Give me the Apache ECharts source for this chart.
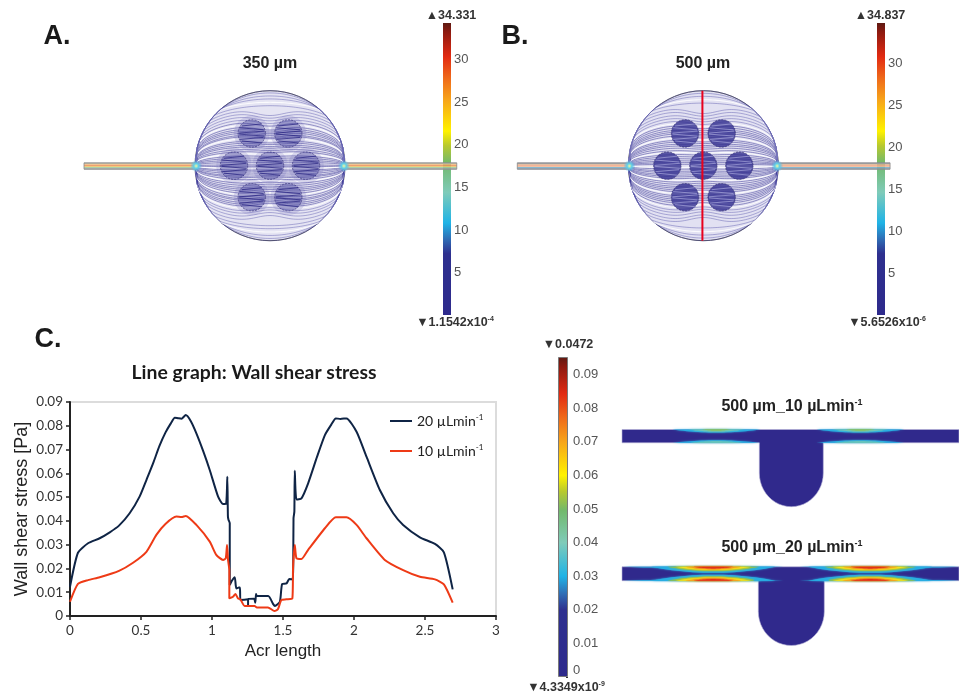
<!DOCTYPE html>
<html><head><meta charset="utf-8">
<style>html,body{margin:0;padding:0;background:#fff}#c{width:959px;height:696px}</style>
<script src="https://cdn.jsdelivr.net/npm/echarts@6/dist/echarts.min.js"></script>
</head><body><div id="c"></div>
<script>
// ---- line graph values (Arc length, Wall shear stress) ----
const arc20 = [0,.056,.127,.209,.28,.345,.42,.49,.54,.585,.63,.672,.71,.738,.76,.785,.815,.85,.89,.94,.984,1.043,1.078,1.10,1.108,1.112,1.116,1.125,1.125,1.14,1.16,1.167,1.172,1.19,1.197,1.2,1.254,1.254,1.258,1.296,1.305,1.31,1.316,1.396,1.431,1.443,1.478,1.494,1.525,1.544,1.567,1.572,1.574,1.58,1.583,1.595,1.63,1.677,1.74,1.795,1.84,1.872,1.905,1.947,2.018,2.088,2.182,2.276,2.346,2.464,2.57,2.633,2.695];
const wss20 = [.0123,.0266,.0306,.0327,.0352,.038,.0432,.0502,.0575,.0642,.0715,.0771,.081,.0834,.0832,.083,.0845,.082,.0768,.069,.0614,.0502,.0471,.0474,.0586,.042,.0405,.039,.013,.0148,.0163,.013,.0116,.012,.012,.0067,.007,.0046,.0072,.0073,.0056,.0092,.0084,.0084,.005,.0042,.006,.0135,.0137,.0156,.0154,.0207,.0411,.0439,.0611,.049,.0495,.0558,.067,.0761,.0805,.0831,.0829,.0831,.0775,.067,.053,.0432,.0383,.0331,.0303,.0268,.0112];
const arc10 = [0,.056,.127,.209,.345,.444,.538,.608,.672,.749,.785,.815,.89,.984,1.03,1.078,1.097,1.106,1.113,1.122,1.122,1.148,1.165,1.183,1.2,1.23,1.30,1.316,1.394,1.44,1.464,1.488,1.523,1.566,1.571,1.583,1.595,1.63,1.677,1.795,1.872,1.947,2.018,2.088,2.217,2.346,2.464,2.57,2.633,2.695];
const wss10 = [.006,.0135,.0151,.0163,.019,.0224,.027,.0341,.0387,.0418,.0416,.0421,.0383,.0313,.0257,.0236,.0243,.0299,.0236,.0193,.0074,.0081,.0093,.0074,.007,.0042,.0042,.0036,.0036,.0021,.0028,.0067,.007,.0074,.0207,.0299,.0243,.024,.0278,.0369,.0415,.0415,.0383,.0327,.0236,.0193,.0165,.0154,.0133,.0056];
const seriesNames = ['20 µLmin-1','10 µLmin-1'];

// ---- colour bars ----
const barTopA = 34.331, barTopB = 34.837, barTopC = 0.0952;
const velocityTick = 5, shearTick = 0.01;

// ---- simulation panels: streamline mid-heights and post centres, in dish radii ----
const streamA = [1,.97,.93,.885,.84,.80,.755,.71,.67,.635,.60,.57,.545,.52,.49,.47,.44,.41,.39,.36,.335,.31,.28,.25,.225,.2,.17,.15,.12,.09,.065,.04,.015,
                 -.01,-.05,-.08,-.11,-.14,-.17,-.2,-.23,-.265,-.29,-.32,-.345,-.38,-.41,-.43,-.46,-.485,-.51,-.54,-.57,-.6,-.64,-.68,-.72,-.76,-.80,-.845,-.89,-.93,-.97,-1];
const streamB = [1,.965,.925,.88,.83,.785,.745,.70,.66,.625,.59,.56,.525,.50,.475,.45,.425,.395,.37,.345,.32,.295,.265,.235,.21,.185,.16,.135,.105,.08,.05,.025,
                 -.02,-.045,-.07,-.1,-.13,-.16,-.19,-.215,-.25,-.28,-.305,-.335,-.36,-.39,-.42,-.45,-.475,-.5,-.53,-.56,-.59,-.625,-.665,-.705,-.75,-.79,-.835,-.88,-.925,-.965,-1];
const postCentres = [[-.244,-.43],[.244,-.43],[-.48,0],[0,0],[.48,0],[-.244,.42],[.244,.42]];
const postStreaks = [-.62,-.34,-.1,.12,.36,.62];
const bandsA = ['#a8a8a8','#f3d684','#e8705c','#f0ac5c','#e8d877','#93c4a6','#a0a0a0'];
const bandsB = ['#8f98a6','#d2b592','#f0ab8c','#f3a687','#eec8a2','#62a8cf','#8f98a6'];
const cutLine = [[-.012,-1],[-.012,1]];
// hot spots of wall shear: [centre, half length, depth, wall (0 top, 1 bottom), heat index]
const heat = ['#27aee3','#6fc6b8','#8fc04c','#f5e11a','#f59a1e','#e2311a'];
const spots10 = [[-75,44,3,0,0],[-75,28,2,0,1],[-75,14,1,0,2],[69,44,3,0,0],[69,28,2,0,1],[69,14,1,0,2],
                 [-75,44,2.5,1,0],[-75,26,1.5,1,1],[69,44,2.5,1,0],[69,26,1.5,1,1]];
const spots20 = [[-88,80,1.4,0,0],[88,80,1.4,0,0],[-88,80,1.4,1,0],[88,80,1.4,1,0],
  [-78,62,6,0,0],[-78,46,4.2,0,2],[-78,38,3.3,0,3],[-78,28,2.4,0,4],[-78,20,1.6,0,5],
  [79,62,6,0,0],[79,46,4.2,0,2],[79,38,3.3,0,3],[79,28,2.4,0,4],[79,20,1.6,0,5],
  [-78,62,6,1,0],[-78,46,4.2,1,2],[-78,38,3.3,1,3],[-78,28,2.4,1,4],[-78,20,1.6,1,5],
  [79,62,6,1,0],[79,46,4.2,1,2],[79,38,3.3,1,3],[79,28,2.4,1,4],[79,20,1.6,1,5],
  [-34,4,2,1,0],[34,4,2,1,0]];

const SANS = '"Liberation Sans", Arial, sans-serif';
const rainbow = {type:'linear',x:0,y:0,x2:0,y2:1,colorStops:[
  {offset:0,color:'#5e1a12'},{offset:.03,color:'#8c1a10'},{offset:.115,color:'#e22a12'},{offset:.19,color:'#ef6a1a'},
  {offset:.265,color:'#f7a51a'},{offset:.37,color:'#fff200'},{offset:.42,color:'#b8c92e'},{offset:.48,color:'#72b96c'},
  {offset:.58,color:'#7fcbb9'},{offset:.685,color:'#1fb3e6'},{offset:.74,color:'#2f6db5'},{offset:.79,color:'#2e308f'},{offset:1,color:'#2e2a8c'}]};

function zip(a,b){return a.map((v,i)=>[v,b[i]]);}

const grids = [
  {left:70,top:402,width:426,height:214,show:true,borderColor:'#dcdcdc',borderWidth:2,backgroundColor:'#fff'},
  {left:443,top:23,width:8,height:292},
  {left:877,top:23,width:8,height:292},
  {left:558,top:357,width:10,height:320},
  {left:84,top:90.7,width:373,height:150},
  {left:517,top:90.7,width:373,height:150},
  {left:622,top:429,width:337,height:78},
  {left:622,top:566.5,width:337,height:80}
];
function hiddenX(i,min,max){return {gridIndex:i,type:'value',min,max,show:false};}
function hiddenY(i,min,max){return {gridIndex:i,type:'value',min,max,inverse:true,show:false};}
function barX(i){return {gridIndex:i,type:'category',data:['bar'],show:false};}
function barY(i,max,step,withZero){return {gridIndex:i,type:'value',position:'right',min:0,max,interval:step,
  axisLine:{show:false},splitLine:{show:false},
  axisTick:{show:true,inside:true,length:2,lineStyle:{color:'#333',width:1}},
  axisLabel:{margin:withZero?5:3,color:'#555',fontFamily:SANS,fontSize:13,showMaxLabel:false,showMinLabel:!!withZero,verticalAlignMinLabel:'bottom'}};}

const xAxes = [
  {gridIndex:0,type:'value',min:0,max:3,interval:.5,name:'Acr length',nameLocation:'middle',nameGap:27,
   nameTextStyle:{fontFamily:SANS,fontSize:17,color:'#222'},
   axisLine:{lineStyle:{color:'#222',width:2}},axisTick:{length:4,lineStyle:{color:'#222',width:1.5}},
   axisLabel:{fontFamily:'Lato',fontSize:13.5,color:'#333',margin:8},splitLine:{show:false}},
  barX(1),barX(2),barX(3),
  hiddenX(4,-2.48,2.493),hiddenX(5,-2.484,2.489),hiddenX(6,-169.3,167.7),hiddenX(7,-169.3,167.7)
];
const yAxes = [
  {gridIndex:0,type:'value',min:0,max:.09,interval:.01,name:'Wall shear stress [Pa]',nameLocation:'middle',nameGap:39,
   nameTextStyle:{fontFamily:SANS,fontSize:18,color:'#222'},
   axisLine:{show:true,lineStyle:{color:'#222',width:2}},axisTick:{show:true,length:4,lineStyle:{color:'#222',width:1.5}},
   axisLabel:{fontFamily:'Lato',fontSize:13.5,color:'#333',margin:7},splitLine:{show:false}},
  barY(1,barTopA,velocityTick),barY(2,barTopB,velocityTick),barY(3,barTopC,shearTick,true),
  hiddenY(4,-1,1),hiddenY(5,-1,1),hiddenY(6,0,78),hiddenY(7,0,80)
];

function lineSeries(name,data,color){return {type:'line',name,xAxisIndex:0,yAxisIndex:0,data,showSymbol:false,symbol:'none',smooth:.2,
  lineStyle:{color,width:2},itemStyle:{color},z:5,silent:true};}
function barSeries(i,top,border){return {type:'bar',xAxisIndex:i,yAxisIndex:i,data:[top],barWidth:'100%',silent:true,
  itemStyle:{color:rainbow,borderColor:border||'transparent',borderWidth:border?1:0}};}

function streamRender(params,api){
  const m=api.value(0), pts=[], a=Math.abs(m), s=m<0?-1:1;
  const k=a<.85?.8-.45*a:.42+(a-.85)/.15*.58;
  for(let j=0;j<=64;j++){
    const x=-1+2*j/64, e=Math.sqrt(Math.max(0,1-x*x));
    let y=a*Math.pow(e,k);
    if(a<.8) y*=1-.12*Math.exp(-Math.pow(x/.28,2));
    pts.push(api.coord([x,s*Math.min(y,e)]));
  }
  const n=params.dataIndex;
  let stroke='rgba(50,46,145,.7)', w=.7;
  if(a>.6) stroke='rgba(78,74,165,.6)';
  if(n%7===3){stroke='rgba(255,255,255,.8)';w=1.1;}
  return {type:'polyline',shape:{points:pts},style:{fill:null,stroke,lineWidth:w},silent:true};
}
function dishRender(fill,edge){return function(params,api){
  const c=api.coord([0,0]), r=api.size([1,1])[1];
  return {type:'circle',shape:{cx:c[0],cy:c[1],r},style:{fill:fill,stroke:edge,lineWidth:1},silent:true};
};}
function postRender(fill,edge,streak,halo){return function(params,api){
  const c=api.coord([api.value(0),api.value(1)]), u=api.size([1,1])[1], r=.183*u;
  const kids=[];
  if(halo) kids.push({type:'circle',shape:{cx:c[0],cy:c[1],r:r*1.3},style:{fill:halo}});
  kids.push({type:'circle',shape:{cx:c[0],cy:c[1],r},style:{fill,stroke:edge,lineWidth:.8,lineDash:[2,1.2]}});
  postStreaks.forEach((s,n)=>{const w=r*Math.sqrt(1-s*s)*.92,dy=s*r;
    kids.push({type:'line',shape:{x1:c[0]-w,y1:c[1]+dy-(n%2?1:-1),x2:c[0]+w,y2:c[1]+dy+(n%2?1:-1)},style:{stroke:streak,lineWidth:1}});});
  return {type:'group',children:kids,silent:true};
};}
function channelRender(bands){return function(params,api){
  const kids=[], h=6.4/bands.length;
  const y0=api.coord([0,0])[1]-2.9;
  [[-2.48,-.99],[.99,2.49]].forEach(p=>{
    const a=api.coord([p[0],0])[0], b=api.coord([p[1],0])[0];
    bands.forEach((col,i)=>kids.push({type:'rect',shape:{x:a,y:y0+i*h,width:b-a,height:h+.2},style:{fill:col}}));
    kids.push({type:'rect',shape:{x:a,y:y0,width:b-a,height:6.4},style:{fill:null,stroke:'#8a8a8a',lineWidth:.8}});
  });
  [-1,1].forEach(s=>{const c=api.coord([s*.985,0]);
    kids.push({type:'circle',shape:{cx:c[0],cy:c[1]+.3,r:6},style:{fill:{type:'radial',x:.5,y:.5,r:.5,colorStops:[{offset:0,color:'#f4f7a0'},{offset:.4,color:'#5fd0e8'},{offset:1,color:'rgba(90,180,230,0)'}]}}});});
  return {type:'group',children:kids,silent:true};
};}
function bodyRender(G){return function(params,api){
  const pts=[[-169.3,G.t],[167.7,G.t],[167.7,G.b],[G.hw,G.b],[G.hw,G.s]];
  for(let j=1;j<=24;j++){const a=Math.PI*j/24;pts.push([G.hw*Math.cos(a),G.s+G.d*Math.sin(a)]);}
  pts.push([-G.hw,G.b],[-169.3,G.b]);
  return {type:'polygon',shape:{points:pts.map(p=>api.coord(p))},style:{fill:'#30298c',stroke:'#b7b3d8',lineWidth:.6},silent:true};
};}
function spotRender(G){return function(params,api){
  const cx=api.value(0),hw=api.value(1),d=api.value(2),wall=api.value(3),col=heat[api.value(4)];
  const y0=wall?G.b:G.t, sgn=wall?-1:1, pts=[];
  for(let j=0;j<=24;j++){const t=-1+2*j/24;pts.push([cx+hw*t,y0+sgn*d*(1-t*t)]);}
  return {type:'polygon',shape:{points:pts.map(p=>api.coord(p))},style:{fill:col,shadowBlur:2,shadowColor:col},silent:true};
};}
function custom(i,data,renderItem,z){return {type:'custom',coordinateSystem:'cartesian2d',xAxisIndex:i,yAxisIndex:i,data,renderItem,z:z||2,silent:true,clip:false,animation:false};}

const G10={t:.5,b:13.8,hw:32,s:44,d:33.7}, G20={t:.3,b:14.2,hw:33,s:45,d:34};

const series=[
  lineSeries(seriesNames[0],zip(arc20,wss20),'#0f2445'),
  lineSeries(seriesNames[1],zip(arc10,wss10),'#ee3a16'),
  barSeries(1,barTopA),barSeries(2,barTopB),barSeries(3,barTopC,'#7a7a7a'),
  custom(4,[[0,0]],dishRender('rgba(125,120,195,.2)','#555'),2),
  custom(4,streamA.map(v=>[v,0]),streamRender,3),
  custom(4,postCentres,postRender('rgba(62,58,150,.36)','rgba(50,46,120,.8)','rgba(40,36,130,.75)','rgba(110,105,185,.2)'),4),
  custom(4,[[0,0]],channelRender(bandsA),5),
  custom(5,[[0,0]],dishRender('rgba(125,120,195,.22)','#555'),2),
  custom(5,streamB.map(v=>[v,0]),streamRender,3),
  custom(5,postCentres,postRender('rgba(54,50,145,.82)','rgba(60,56,120,.9)','rgba(190,190,235,.55)'),4),
  custom(5,[[0,0]],channelRender(bandsB),5),
  {type:'line',xAxisIndex:5,yAxisIndex:5,data:cutLine,symbol:'none',lineStyle:{color:'#e8001c',width:2},z:6,silent:true},
  custom(6,[[0,0]],bodyRender(G10),2),
  custom(6,spots10,spotRender(G10),3),
  custom(7,[[0,0]],bodyRender(G20),2),
  custom(7,spots20,spotRender(G20),3)
];

function text(x,y,str,size,weight,color,family){
  return {type:'text',x,y,silent:true,z:20,style:{text:str,align:'center',verticalAlign:'middle',
    font:(weight||'normal')+' '+size+'px '+(family||SANS),fill:color||'#222'}};
}
function richText(x,y,base,power,size,color){
  return {type:'text',x,y,silent:true,z:20,style:{text:'{n|'+base+'}{s|'+power+'}',align:'center',verticalAlign:'middle',
    rich:{n:{font:'bold '+size+'px '+SANS,fill:color||'#222',lineHeight:size+2},
          s:{font:'bold '+Math.round(size*.55)+'px '+SANS,fill:color||'#222',verticalAlign:'top',lineHeight:size+2}}}};
}

const option={
  animation:false,backgroundColor:'#fff',
  grid:grids,xAxis:xAxes,yAxis:yAxes,series,
  legend:{data:seriesNames.map(name=>({name,icon:'rect'})),orient:'vertical',left:385,top:408,itemWidth:22,itemHeight:2,itemGap:15,selectedMode:false,
    formatter:n=>{const p=n.split('-');return '{n|'+p[0]+'}{s|-'+p[1]+'}';},
    textStyle:{rich:{n:{fontFamily:'Lato',fontSize:14,color:'#222',lineHeight:16},s:{fontFamily:'Lato',fontSize:8,color:'#222',verticalAlign:'top',lineHeight:16}}}},
  graphic:{elements:[
    text(57,37,'A.',27,'bold','#1a1a1a'),
    text(515,37,'B.',27,'bold','#1a1a1a'),
    text(48,340,'C.',27,'bold','#1a1a1a'),
    text(270,64,'350 µm',16,'bold'),
    text(703,64,'500 µm',16,'bold'),
    text(254,373,'Line graph: Wall shear stress',19.4,'bold','#1a1a1a','Lato'),
    text(451,16,'▲34.331',12.5,'bold','#333'),
    richText(455,323,'▼1.1542x10','-4',12.5,'#333'),
    text(880,16,'▲34.837',12.5,'bold','#333'),
    richText(887,323,'▼5.6526x10','-6',12.5,'#333'),
    text(568,345,'▼0.0472',12.5,'bold','#333'),
    richText(566,688,'▼4.3349x10','-9',12.5,'#333'),
    richText(792,407,'500 µm_10 µLmin','-1',16),
    richText(792,548,'500 µm_20 µLmin','-1',16)
  ]}
};
echarts.init(document.getElementById('c'),null,{renderer:'canvas'}).setOption(option);
</script></body></html>
